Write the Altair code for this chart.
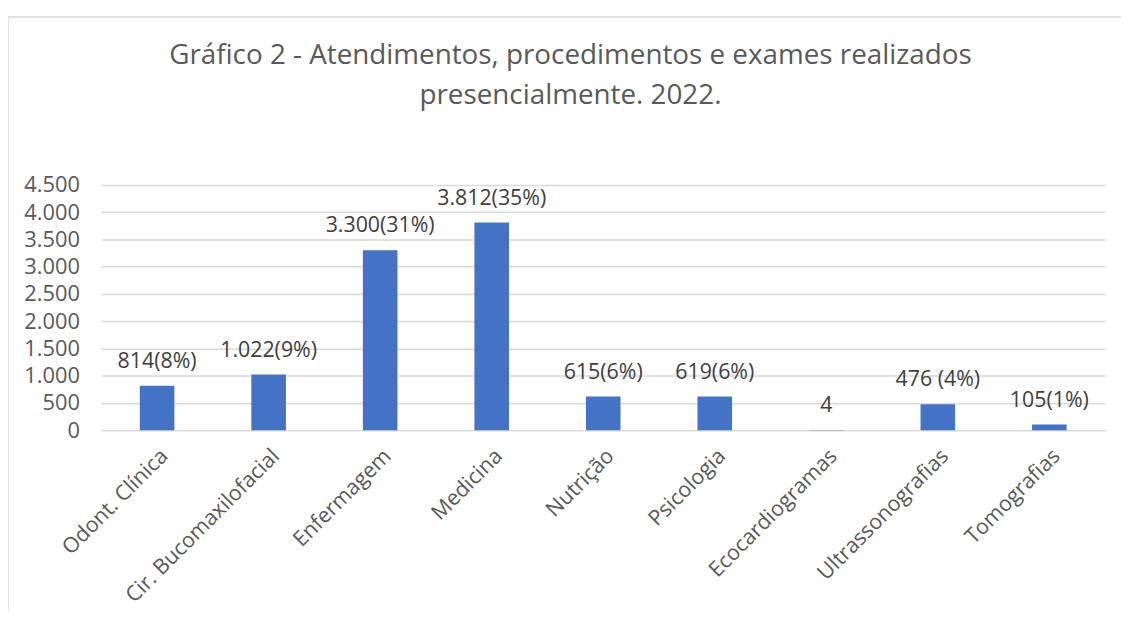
import altair as alt
import pandas as pd

categories = ["Odont. Clínica", "Cir. Bucomaxilofacial", "Enfermagem", "Medicina",
              "Nutrição", "Psicologia", "Ecocardiogramas", "Ultrassonografias", "Tomografias"]
values = [814, 1022, 3300, 3812, 615, 619, 4, 476, 105]
labels = ["814(8%)", "1.022(9%)", "3.300(31%)", "3.812(35%)", "615(6%)", "619(6%)",
          "4", "476 (4%)", "105(1%)"]
y_ticks = [0, 500, 1000, 1500, 2000, 2500, 3000, 3500, 4000, 4500]

df = pd.DataFrame({"cat": categories, "val": values, "lab": labels})

FONT = "Open Sans"
GRAY = "#595959"
GRID = "#d9d9d9"

x = alt.X("cat:N", sort=categories, title=None,
          scale=alt.Scale(paddingInner=0.69, paddingOuter=0.345),
          axis=alt.Axis(labelAngle=-45, labelFontSize=21.5, labelColor=GRAY, labelFont=FONT,
                        ticks=False, domainColor=GRID, domainWidth=1.5, labelPadding=15,
                        labelLimit=400))
y = alt.Y("val:Q", title=None, scale=alt.Scale(domain=[0, 4500], nice=False),
          axis=alt.Axis(values=y_ticks, labelExpr="replace(format(datum.value, ','), ',', '.')",
                        labelFontSize=22, labelColor=GRAY, labelFont=FONT, ticks=False,
                        domain=False, gridColor=GRID, gridWidth=1.5, labelPadding=22,
                        labelOverlap=False))

base = alt.Chart(df)
bars = base.mark_bar(color="#4472C4").encode(x=x, y=y)
text = base.mark_text(baseline="alphabetic", dy=-18, fontSize=21.5, font=FONT, color="#404040").encode(
    x=x, y=y, text="lab:N")

border = alt.Chart(pd.DataFrame({"a": [0]})).mark_rect(filled=False, stroke=GRID, strokeWidth=1.5).encode(
    x=alt.value(-94), x2=alt.value(1300), y=alt.value(-169), y2=alt.value(700))

chart = alt.layer(border, bars, text).properties(
    width=1011, height=247,
    title=alt.TitleParams(
        text=["Gráfico 2 - Atendimentos, procedimentos e exames realizados",
              "presencialmente. 2022."],
        font=FONT, fontSize=28, fontWeight="normal", color=GRAY, anchor="middle",
        frame="group", lineHeight=40, dx=-33, offset=-94),
    autosize=alt.AutoSizeParams(type="none"),
    padding={"left": 94, "top": 176, "right": 16, "bottom": 180},
).configure_view(stroke=None)

chart.save("out.html", embed_options={"renderer": "svg", "actions": False})
